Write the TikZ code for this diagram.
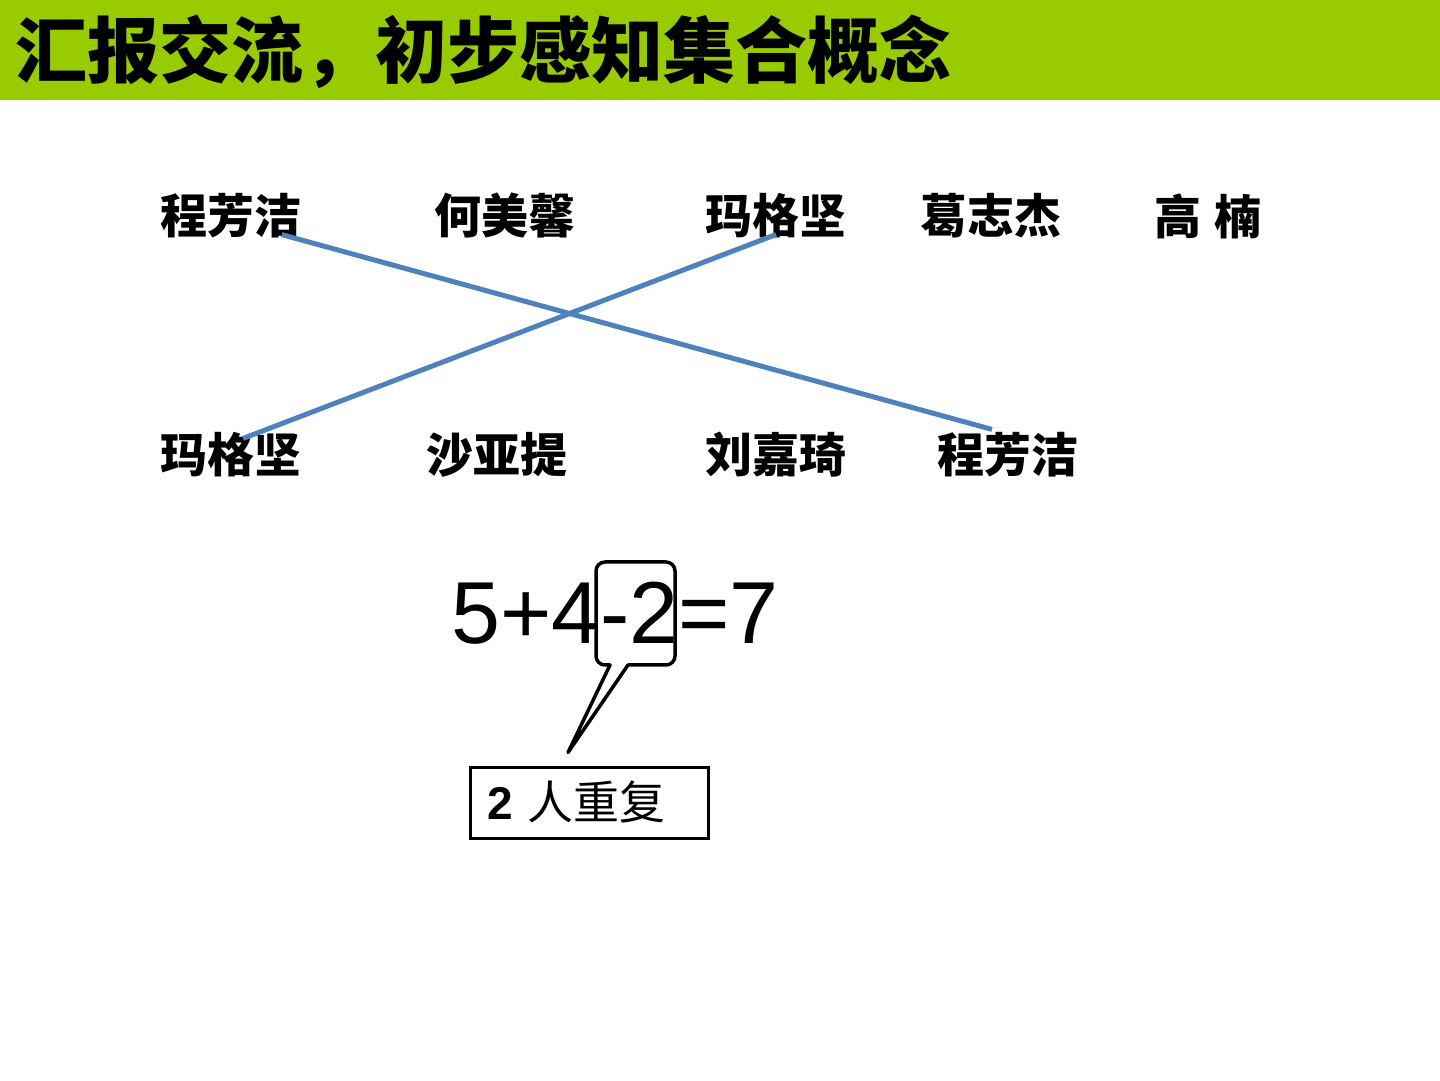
\documentclass[tikz,border=0pt]{standalone}
\usepackage{fontspec}
\setmainfont{Liberation Sans}
\newfontfamily\cjk{Noto Sans CJK SC}
\usetikzlibrary{calc}
\definecolor{titlegreen}{HTML}{99CC00}
\definecolor{linkblue}{HTML}{4F81BD}

\begin{document}
\begin{tikzpicture}[
  x=1pt,y=1pt,
  heading/.style={anchor=west,inner sep=0pt,font=\cjk\bfseries\fontsize{72}{80}\selectfont},
  person/.style={inner sep=0pt,font=\cjk\bfseries\fontsize{47}{52}\selectfont},
  link/.style={draw=linkblue,line width=5pt},
  bubble/.style={draw,line width=3.5pt,line join=round},
  notebox/.style={draw,line width=3pt,minimum height=71pt,text width=204pt,
    inner xsep=17pt,align=left,font=\fontsize{46}{50}\selectfont}
]
\useasboundingbox (0,0) rectangle (1440,1080);
\fill[titlegreen] (0,980) rectangle (1440,1080);
\node[heading] (title) at (15,1028) {汇报交流，初步感知集合概念};
% top row
\node[person] (cheng) at (231,864) {程芳洁};
\node[person] (he) at (505,864) {何美馨};
\node[person] (ma) at (776,864) {玛格坚};
\node[person] (ge) at (991,864) {葛志杰};
\node[person] (gao) at (1208,864) {高\hspace{14pt}楠};
% bottom row
\node[person] (ma2) at (231,625) {玛格坚};
\node[person] (sha) at (497,625) {沙亚提};
\node[person] (liu) at (776,625) {刘嘉琦};
\node[person] (cheng2) at (1008,625) {程芳洁};
\draw[link] ([xshift=-20pt,yshift=4pt]cheng.south east) -- ([xshift=-16pt,yshift=3pt]cheng2.north);
\draw[link] ([yshift=4pt]ma.south) -- ([xshift=12pt,yshift=-6pt]ma2.north);
% equation and note
\node[inner sep=0pt,font=\fontsize{88}{94}\selectfont] (eq) at (615,467) {5+4-2=7};
\node[notebox] (note) at (589,277.5) {\textbf{2} {\cjk 人重复}};
\draw[bubble] (628,415) [rounded corners=9pt] -- (675,415) -- (675,518) -- (596,518)
  -- (596,415) [sharp corners] -- (610,415) -- ([xshift=-21pt,yshift=13pt]note.north) -- cycle;
\end{tikzpicture}
\end{document}
